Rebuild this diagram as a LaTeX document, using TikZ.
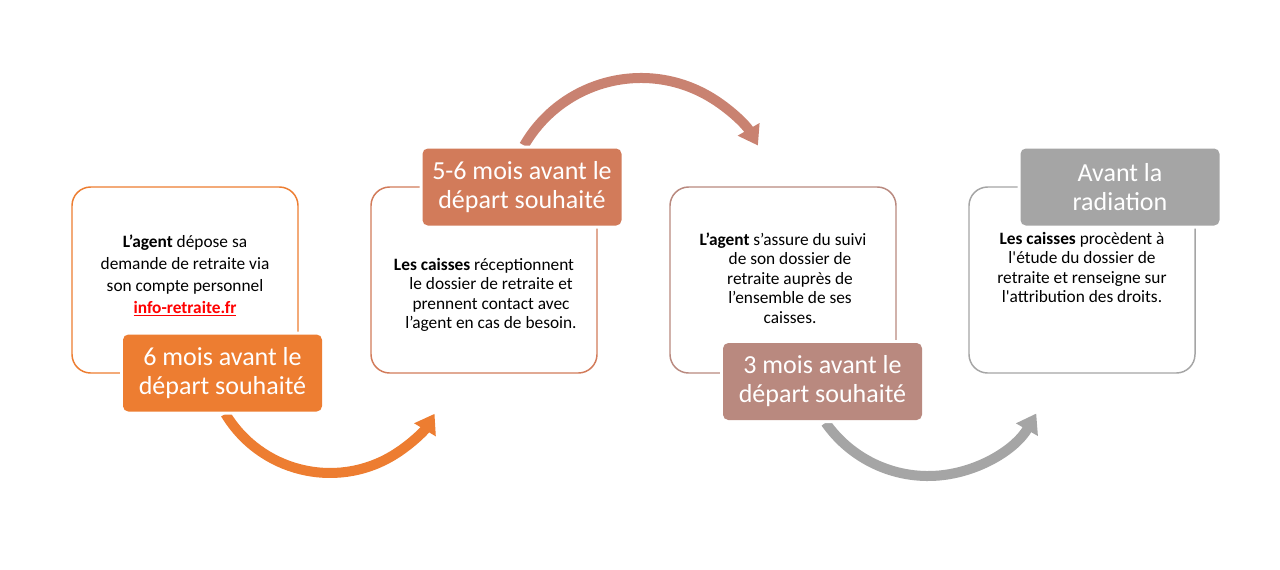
\documentclass[tikz,border=0pt]{standalone}
\usepackage{fontspec}
\setmainfont{Carlito}
\usetikzlibrary{arrows.meta}
\definecolor{cOne}{HTML}{ED7D31}
\definecolor{cTwo}{HTML}{D27B5A}
\definecolor{cTwoArr}{HTML}{C98271}
\definecolor{cThree}{HTML}{B9897F}
\definecolor{cFour}{HTML}{A5A5A5}
\definecolor{linkred}{HTML}{FF0000}
\tikzset{
  card/.style={draw=#1, line width=1.1pt, rounded corners=14pt, fill=white,
    minimum width=169.5pt, minimum height=139.5pt, inner sep=0pt},
  tag/.style={fill=#1, rounded corners=4pt, text=white, align=center,
    minimum width=149.25pt, minimum height=57.75pt, inner sep=0pt,
    preaction={draw=white, line width=4.5pt},
    font=\fontsize{19.5}{21.75}\selectfont},
  bodytxt/.style={align=center, inner sep=0pt, text=black,
    font=\fontsize{13}{16.3}\selectfont},
  bodytxttight/.style={align=center, inner sep=0pt, text=black,
    font=\fontsize{13}{14.6}\selectfont},
  curve/.style={draw=#1, line width=7.5pt,
    -{Triangle[width=18pt,length=14pt]}},
}
\begin{document}
\begin{tikzpicture}[x=0.75pt,y=-0.75pt]
\useasboundingbox[fill=white] (0,0) rectangle (1280,569);

% cards
\node[card=cOne]   (b1) at (185,280) {};
\node[card=cTwo]   (b2) at (484,280) {};
\node[card=cThree] (b3) at (783,280) {};
\node[card=cFour]  (b4) at (1082,280) {};

% card texts
\node[bodytxt] (t1) at (185,275.5) {\textbf{L’agent} dépose sa\\demande de retraite via\\son compte personnel\\\textcolor{linkred}{\textbf{\underline{info-retraite.fr}}}};
\node[bodytxttight] (t2) at (484,295) {\textbf{Les caisses} réceptionnent\\\hspace*{10.5pt}le dossier de retraite et\\\hspace*{10.5pt}prennent contact avec\\\hspace*{10.5pt}l’agent en cas de besoin.};
\node[bodytxttight] (t3) at (783,278) {\textbf{L’agent} s’assure du suivi\\\hspace*{10.5pt}de son dossier de\\\hspace*{10.5pt}retraite auprès de\\\hspace*{10.5pt}l’ensemble de ses\\\hspace*{10.5pt}caisses.};
\node[bodytxttight] (t4) at (1082,267.5) {\textbf{Les caisses} procèdent à\\l\textquotesingle étude du dossier de\\retraite et renseigne sur\\l\textquotesingle attribution des droits.};

% arrows
\coordinate (a1s) at (225.4,413.8);
\coordinate (a2s) at (524.1,145.5);
\coordinate (a3s) at (825.6,422.7);
\draw[curve=cOne]    (a1s) arc[start angle=149, end angle=31, radius=122];
\draw[curve=cTwoArr] (a2s) arc[start angle=210, end angle=330, radius=135];
\draw[curve=cFour]   (a3s) arc[start angle=145, end angle=30, radius=125];

% tags
\node[tag=cOne]   (l1) at (222.5,373)   {6 mois avant le\\départ souhaité};
\node[tag=cTwo]   (l2) at (522,187)     {5-6 mois avant le\\départ souhaité};
\node[tag=cThree] (l3) at (822.5,381.5) {3 mois avant le\\départ souhaité};
\node[tag=cFour]  (l4) at (1120,187)    {Avant la\\radiation};
\end{tikzpicture}
\end{document}
